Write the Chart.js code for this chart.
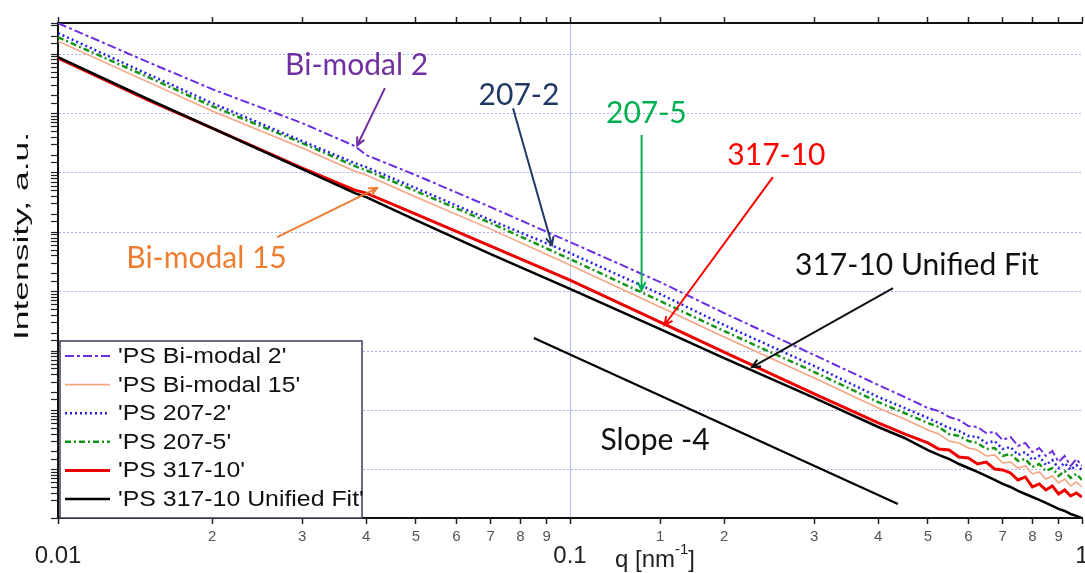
<!DOCTYPE html>
<html>
<head>
<meta charset="utf-8">
<script src="https://cdn.jsdelivr.net/npm/chart.js@4.4.0/dist/chart.umd.min.js"></script>
<style>
  html, body { margin: 0; padding: 0; background: #fff; overflow: hidden; }
  #wrap { position: relative; width: 1085px; height: 573px; }
</style>
</head>
<body>
<div id="wrap"><canvas id="saxsChart"></canvas></div>
<script>
// q [nm^-1], shared by every curve
const q = [0.01, 0.015, 0.02, 0.03, 0.038, 0.04, 0.05, 0.07, 0.1, 0.15, 0.2, 0.3, 0.4, 0.45,
  0.5, 0.525, 0.55, 0.575, 0.6, 0.625, 0.65, 0.675, 0.7, 0.725, 0.75, 0.775, 0.8, 0.825, 0.85,
  0.875, 0.9, 0.925, 0.95, 0.975, 1.0];

// intensity, a.u.
const bimodal2 = [3.33e7, 7.33e6, 2.58e6, 6.89e5, 2.83e5, 2.0e5, 9.18e4, 2.65e4, 6.84e3, 1.45e3, 436, 85.7, 26.8, 16.8,
  11.0, 9.77, 7.74, 6.89, 5.46, 5.25, 4.16, 4.33, 3.18, 3.57, 2.52, 2.83, 1.99, 2.33, 1.71, 2.07, 1.35, 1.71, 1.16, 1.52, 1.16];
const bimodal15 = [1.66e7, 3.38e6, 1.10e6, 2.62e5, 1.07e5, 9.18e4, 3.92e4, 1.13e4, 2.81e3, 551, 172, 35.1, 11.0, 7.16,
  4.68, 4.01, 3.05, 2.83, 2.33, 2.15, 1.71, 1.78, 1.30, 1.35, 1.07, 1.16, 0.850, 0.918, 0.700, 0.786, 0.600, 0.700, 0.534, 0.623, 0.513];
const ps2072 = [2.26e7, 4.60e6, 1.50e6, 3.43e5, 1.46e5, 1.25e5, 5.55e4, 1.60e4, 4.47e3, 912, 274, 55.9, 16.8, 11.0,
  7.45, 6.14, 5.05, 4.50, 3.71, 3.57, 2.83, 3.05, 2.24, 2.42, 1.78, 1.99, 1.46, 1.71, 1.20, 1.46, 1.07, 1.30, 0.992, 1.20, 0.992];
const ps2075 = [1.93e7, 4.10e6, 1.33e6, 3.18e5, 1.30e5, 1.11e5, 4.94e4, 1.43e4, 3.54e3, 695, 217, 44.3, 13.8, 9.04,
  6.14, 5.25, 4.01, 3.71, 3.05, 2.83, 2.24, 2.33, 1.71, 1.85, 1.41, 1.52, 1.11, 1.25, 0.954, 1.07, 0.786, 0.954, 0.728, 0.850, 0.673];
const ps31710 = [8.57e6, 1.68e6, 5.68e5, 1.21e5, 5.13e4, 4.57e4, 2.02e4, 5.86e3, 1.57e3, 308, 96.2, 18.9, 6.14, 4.01,
  2.83, 2.24, 2.15, 1.64, 1.58, 1.25, 1.35, 1.03, 0.992, 0.884, 0.673, 0.756, 0.513, 0.577, 0.457, 0.534, 0.391, 0.457, 0.362, 0.407, 0.348];
const unifiedFit = [8.89e6, 1.75e6, 5.68e5, 1.16e5, 4.57e4, 3.92e4, 1.60e4, 4.30e3, 1.11e3, 234, 76.2, 16.2, 5.25, 3.43,
  2.15, 1.78, 1.52, 1.25, 1.07, 0.918, 0.786, 0.673, 0.577, 0.513, 0.440, 0.391, 0.348, 0.310, 0.276, 0.246, 0.219, 0.202, 0.180, 0.167, 0.154];

// slope -4 guide line
const slopeQ = [0.085, 0.437];
const slopeI = [166, 0.266];

// text callouts, in data units: label spot and arrow from -> to
const notes = [
  { text: 'Bi-modal 2', color: '#7030a0', at: [0.0383, 6.5e6], from: [0.0435, 2.68e6], to: [0.0384, 2.9e5] },
  { text: '207-2', color: '#1f3864', at: [0.0795, 2.04e6], from: [0.0774, 1.23e6], to: [0.0922, 6.09e3] },
  { text: '207-5', color: '#00b050', at: [0.141, 1.02e6], from: [0.138, 4.33e5], to: [0.138, 1.06e3] },
  { text: '317-10', color: '#ff0000', at: [0.253, 2.0e5], from: [0.249, 8.49e4], to: [0.153, 274] },
  { text: '317-10 Unified Fit', color: '#111111', at: [0.476, 2.81e3], from: [0.4275, 1.15e3], to: [0.2268, 53.8] },
  { text: 'Bi-modal 15', color: '#ed7d31', at: [0.0195, 3.68e3], from: [0.0268, 8.30e3], to: [0.042, 5.55e4] },
  { text: 'Slope -4', color: '#111111', at: [0.1466, 3.18] }
];

function series(label, vals, color, width, dash, order) {
  return {
    label: label,
    data: q.map((x, i) => ({ x: x, y: vals[i] })),
    borderColor: color,
    borderWidth: width,
    borderDash: dash,
    pointRadius: 0,
    fill: false,
    tension: 0,
    order: order
  };
}

const datasets = [
  series("'PS Bi-modal 2'", bimodal2, '#6a2ee0', 2, [9, 3, 3, 3], 5),
  series("'PS Bi-modal 15'", bimodal15, '#f4a582', 1.6, [], 4),
  series("'PS 207-2'", ps2072, '#2222dd', 2.5, [2, 3], 3),
  series("'PS 207-5'", ps2075, '#169416', 2.5, [6, 3, 2, 3], 3),
  series("'PS 317-10'", ps31710, '#ee0000', 3, [], 1),
  series("'PS 317-10 Unified Fit'", unifiedFit, '#000000', 2.5, [], 0),
  {
    label: 'slope',
    data: slopeQ.map((x, i) => ({ x: x, y: slopeI[i] })),
    borderColor: '#000', borderWidth: 2.2, pointRadius: 0, fill: false, order: 0
  }
];

function drawArrow(ctx, x1, y1, x2, y2) {
  const a = Math.atan2(y2 - y1, x2 - x1), L = 9, s = 0.45;
  ctx.beginPath();
  ctx.moveTo(x1, y1);
  ctx.lineTo(x2, y2);
  ctx.moveTo(x2 - L * Math.cos(a - s), y2 - L * Math.sin(a - s));
  ctx.lineTo(x2, y2);
  ctx.lineTo(x2 - L * Math.cos(a + s), y2 - L * Math.sin(a + s));
  ctx.stroke();
}

const callouts = {
  id: 'callouts',
  afterDatasetsDraw(chart) {
    const { ctx, scales } = chart;
    const X = v => scales.x.getPixelForValue(v), Y = v => scales.y.getPixelForValue(v);
    ctx.save();
    notes.forEach(n => {
      ctx.fillStyle = n.color;
      ctx.strokeStyle = n.color;
      ctx.lineWidth = 2;
      ctx.font = '30px Lato';
      ctx.textAlign = 'center';
      ctx.textBaseline = 'middle';
      ctx.fillText(n.text, X(n.at[0]), Y(n.at[1]));
      if (n.from) drawArrow(ctx, X(n.from[0]), Y(n.from[1]), X(n.to[0]), Y(n.to[1]));
    });
    ctx.restore();
  }
};

const boxLegend = {
  id: 'boxLegend',
  afterDraw(chart) {
    const { ctx, chartArea } = chart;
    const x0 = chartArea.left + 2, w = 302, h = 177, y0 = chartArea.bottom - h;
    ctx.save();
    ctx.fillStyle = '#fff';
    ctx.fillRect(x0, y0, w, h);
    ctx.strokeStyle = '#3c3c5a';
    ctx.lineWidth = 1.5;
    ctx.strokeRect(x0, y0, w, h);
    chart.data.datasets.slice(0, 6).forEach((ds, i) => {
      const y = y0 + 15 + i * 28.6;
      ctx.strokeStyle = ds.borderColor;
      ctx.lineWidth = ds.borderWidth;
      ctx.setLineDash(ds.borderDash);
      ctx.beginPath();
      ctx.moveTo(x0 + 5, y);
      ctx.lineTo(x0 + 50, y);
      ctx.stroke();
      ctx.setLineDash([]);
      ctx.save();
      ctx.translate(x0 + 58, y);
      ctx.scale(1.13, 1);
      ctx.fillStyle = '#111';
      ctx.font = '22px "Liberation Sans"';
      ctx.textBaseline = 'middle';
      ctx.fillText(ds.label, 0, 1);
      ctx.restore();
    });
    ctx.restore();
  }
};

const axisTitles = {
  id: 'axisTitles',
  afterDraw(chart) {
    const { ctx } = chart;
    ctx.save();
    ctx.fillStyle = '#111';
    // y title
    ctx.font = '20px "Liberation Sans"';
    ctx.translate(22, 236);
    ctx.rotate(-Math.PI / 2);
    const t = 'Intensity, a.u.';
    const sx = 208 / ctx.measureText(t).width;
    ctx.scale(sx, 1);
    ctx.textAlign = 'center';
    ctx.textBaseline = 'middle';
    ctx.fillText(t, 0, 0);
    ctx.restore();
    // x title with superscript
    ctx.save();
    ctx.fillStyle = '#222';
    ctx.textBaseline = 'alphabetic';
    ctx.font = '24px "Liberation Sans"';
    let x = 615;
    const base = 567;
    ctx.fillText('q [nm', x, base);
    x += ctx.measureText('q [nm').width;
    ctx.font = '15px "Liberation Sans"';
    ctx.fillText('-1', x, base - 13);
    x += ctx.measureText('-1').width;
    ctx.font = '24px "Liberation Sans"';
    ctx.fillText(']', x, base);
    ctx.restore();
  }
};

new Chart(document.getElementById('saxsChart'), {
  type: 'line',
  data: { datasets: datasets },
  plugins: [callouts, boxLegend, axisTitles],
  options: {
    responsive: true,
    maintainAspectRatio: false,
    animation: false,
    layout: { padding: 0 },
    plugins: { legend: { display: false }, tooltip: { enabled: false } },
    scales: {
      x: {
        type: 'logarithmic',
        position: 'bottom',
        min: 0.01,
        max: 1,
        border: { color: '#111', width: 2 },
        grid: {
          color: c => (c.tick && Math.abs(c.tick.value - 0.1) < 1e-9) ? 'rgba(150,160,235,0.7)' : 'rgba(0,0,0,0)',
          tickColor: '#222',
          tickLength: 6,
          tickWidth: 1.5
        },
        ticks: {
          autoSkip: false,
          maxRotation: 0,
          padding: 4,
          color: c => (c.tick && c.tick.major) ? '#222' : '#555',
          font: c => (c.tick && c.tick.major)
            ? { family: 'Liberation Sans', size: 24, lineHeight: 0.8 }
            : { family: 'Liberation Sans', size: 15, lineHeight: 1.2 },
          callback: (v, i, ticks) => {
            if (ticks[i].major) return ['', String(v)];
            return String(Math.round(v / Math.pow(10, Math.floor(Math.log10(v) + 1e-9))));
          }
        },
        afterFit: s => { s.height = 55; s.paddingLeft = 0; s.paddingRight = 3; }
      },
      x2: {
        type: 'logarithmic',
        position: 'top',
        min: 0.01,
        max: 1,
        border: { color: '#111', width: 2 },
        grid: { drawOnChartArea: false, tickColor: '#222', tickLength: 6, tickWidth: 1.5 },
        ticks: { display: false, autoSkip: false },
        afterFit: s => { s.height = 23; }
      },
      y: {
        type: 'logarithmic',
        min: 0.154,
        max: 3.35e7,
        border: { color: '#111', width: 2, dash: [2, 2] },
        grid: {
          color: c => (c.tick && c.tick.major) ? 'rgba(140,150,230,0.75)' : 'rgba(0,0,0,0)',
          tickColor: '#222',
          tickLength: 7,
          tickWidth: 1.2
        },
        ticks: { display: false, autoSkip: false },
        afterFit: s => { s.width = 58; }
      }
    }
  }
});
</script>
</body>
</html>
